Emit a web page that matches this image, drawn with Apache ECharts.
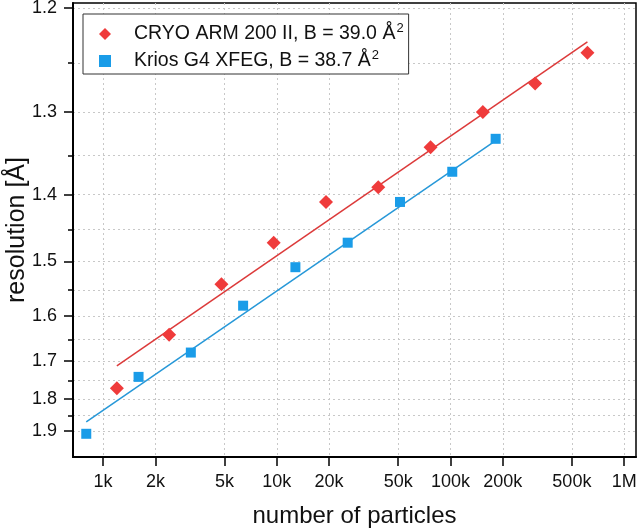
<!DOCTYPE html>
<html>
<head>
<meta charset="utf-8">
<style>
  html, body { margin: 0; padding: 0; background: #fff; }
  #main { width: 640px; height: 530px; }
</style>
</head>
<body>
<div id="main"></div>
<script src="https://cdn.jsdelivr.net/npm/echarts@6/dist/echarts.min.js"></script>
<script>
// particle counts and resolution (Å)
var cryoN = [1200, 2400, 4800, 9600, 19200, 38400, 76800, 153600, 307200, 614400];
var cryoRes = [1.77, 1.64, 1.54, 1.47, 1.41, 1.39, 1.34, 1.30, 1.27, 1.24];
var kriosN = [800, 1600, 3200, 6400, 12800, 25600, 51200, 102400, 182000];
var kriosRes = [1.91, 1.74, 1.68, 1.58, 1.51, 1.47, 1.41, 1.37, 1.33];

// fitted lines (end points)
var cryoFitN = [1200, 614400];
var cryoFitRes = [1.712, 1.230];
var kriosFitN = [800, 182000];
var kriosFitRes = [1.870, 1.332];

// ticks
var xTickN = [1000, 2000, 5000, 10000, 20000, 50000, 100000, 200000, 500000, 1000000];
var xTickLabels = ['1k', '2k', '5k', '10k', '20k', '50k', '100k', '200k', '500k', '1M'];
var yMajorRes = [1.2, 1.3, 1.4, 1.5, 1.6, 1.7, 1.8, 1.9];
var yMinorRes = [1.25, 1.35, 1.45, 1.55, 1.65, 1.75, 1.85];

var names = ['CRYO ARM 200 II, B = 39.0 Å²', 'Krios G4 XFEG, B = 38.7 Å²'];

// B-factor plot: x = log10(N), y = 1/d²
function tx(n) { return Math.log10(n); }
function ty(d) { return 1 / (d * d); }
function pairs(ns, rs) {
    return ns.map(function (n, i) { return [tx(n), ty(rs[i])]; });
}

var xMin = tx(671), xMax = tx(1170000);
var yMin = 0.2512, yMax = 0.6994;
var font = 'Liberation Sans, Arial, sans-serif';
var gridLine = { show: true, lineStyle: { color: '#c8c8c8', type: [2, 3], width: 1 } };

var myChart = echarts.init(document.getElementById('main'));
var option = {
    animation: false,
    textStyle: { fontFamily: font },
    grid: {
        left: 73, right: 4, top: 3, bottom: 73,
        outerBoundsMode: 'none',
        containLabel: false,
        show: true, borderColor: '#000', borderWidth: 1.5, backgroundColor: '#fff'
    },
    legend: {
        orient: 'vertical',
        left: 83, top: 14,
        data: [names[0], names[1]],
        itemWidth: 12, itemHeight: 12, itemGap: 5,
        padding: [8, 5, 3, 16],
        borderColor: '#333', borderWidth: 1,
        backgroundColor: '#fff',
        formatter: function (name) {
            var parts = name.split('²');
            return '{t|' + parts[0] + '}{sup|2}';
        },
        textStyle: {
            fontSize: 19.5, color: '#111', fontFamily: font, padding: [0, 0, 0, 18],
            rich: {
                t: { fontSize: 19.5, lineHeight: 20, color: '#111', fontFamily: font },
                sup: { fontSize: 13, lineHeight: 13, color: '#111', fontFamily: font,
                       verticalAlign: 'bottom', padding: [0, 0, 9, 1] }
            }
        }
    },
    xAxis: {
        type: 'value',
        min: xMin, max: xMax,
        name: 'number of particles',
        nameLocation: 'middle',
        nameGap: 47,
        nameMoveOverlap: false,
        nameTextStyle: { fontSize: 24, color: '#111' },
        axisLine: { show: true, onZero: false, lineStyle: { color: '#000', width: 2 } },
        axisTick: { show: true, length: 9, customValues: xTickN.map(tx), lineStyle: { color: '#000', width: 1.5 } },
        axisLabel: {
            fontSize: 18, color: '#111', margin: 16,
            customValues: xTickN.map(tx),
            formatter: function (v) {
                for (var i = 0; i < xTickN.length; i++) {
                    if (Math.abs(tx(xTickN[i]) - v) < 1e-6) return xTickLabels[i];
                }
                return '';
            }
        },
        splitLine: gridLine
    },
    yAxis: [{
        type: 'value',
        min: yMin, max: yMax,
        name: 'resolution [Å]',
        nameLocation: 'middle',
        nameGap: 43,
        nameMoveOverlap: false,
        nameTextStyle: { fontSize: 25, color: '#111' },
        axisLine: { show: true, onZero: false, lineStyle: { color: '#000', width: 2 } },
        axisTick: { show: true, length: 9, customValues: yMajorRes.map(ty), lineStyle: { color: '#000', width: 1.5 } },
        axisLabel: {
            fontSize: 18, color: '#111', margin: 16,
            customValues: yMajorRes.map(ty),
            formatter: function (v) { return (1 / Math.sqrt(v)).toFixed(1); }
        },
        splitLine: gridLine
    }, {
        // minor ticks
        type: 'value',
        position: 'left',
        min: yMin, max: yMax,
        axisLine: { show: false },
        axisTick: { show: true, length: 5, customValues: yMinorRes.map(ty), lineStyle: { color: '#000', width: 1.5 } },
        axisLabel: { show: false, customValues: yMinorRes.map(ty) },
        splitLine: gridLine
    }],
    series: [{
        type: 'line',
        data: pairs(cryoFitN, cryoFitRes),
        showSymbol: false,
        lineStyle: { color: '#dc3a3a', width: 1.5 },
        z: 3
    }, {
        type: 'line',
        data: pairs(kriosFitN, kriosFitRes),
        showSymbol: false,
        lineStyle: { color: '#2798d8', width: 1.5 },
        z: 3
    }, {
        name: names[0],
        type: 'scatter',
        symbol: 'diamond',
        symbolSize: 14,
        itemStyle: { color: '#ef3b3b', opacity: 1 },
        data: pairs(cryoN, cryoRes),
        z: 5
    }, {
        name: names[1],
        type: 'scatter',
        symbol: 'rect',
        symbolSize: 10,
        itemStyle: { color: '#1a9ce8', opacity: 1 },
        data: pairs(kriosN, kriosRes),
        z: 5
    }]
};
myChart.setOption(option);
</script>
</body>
</html>
